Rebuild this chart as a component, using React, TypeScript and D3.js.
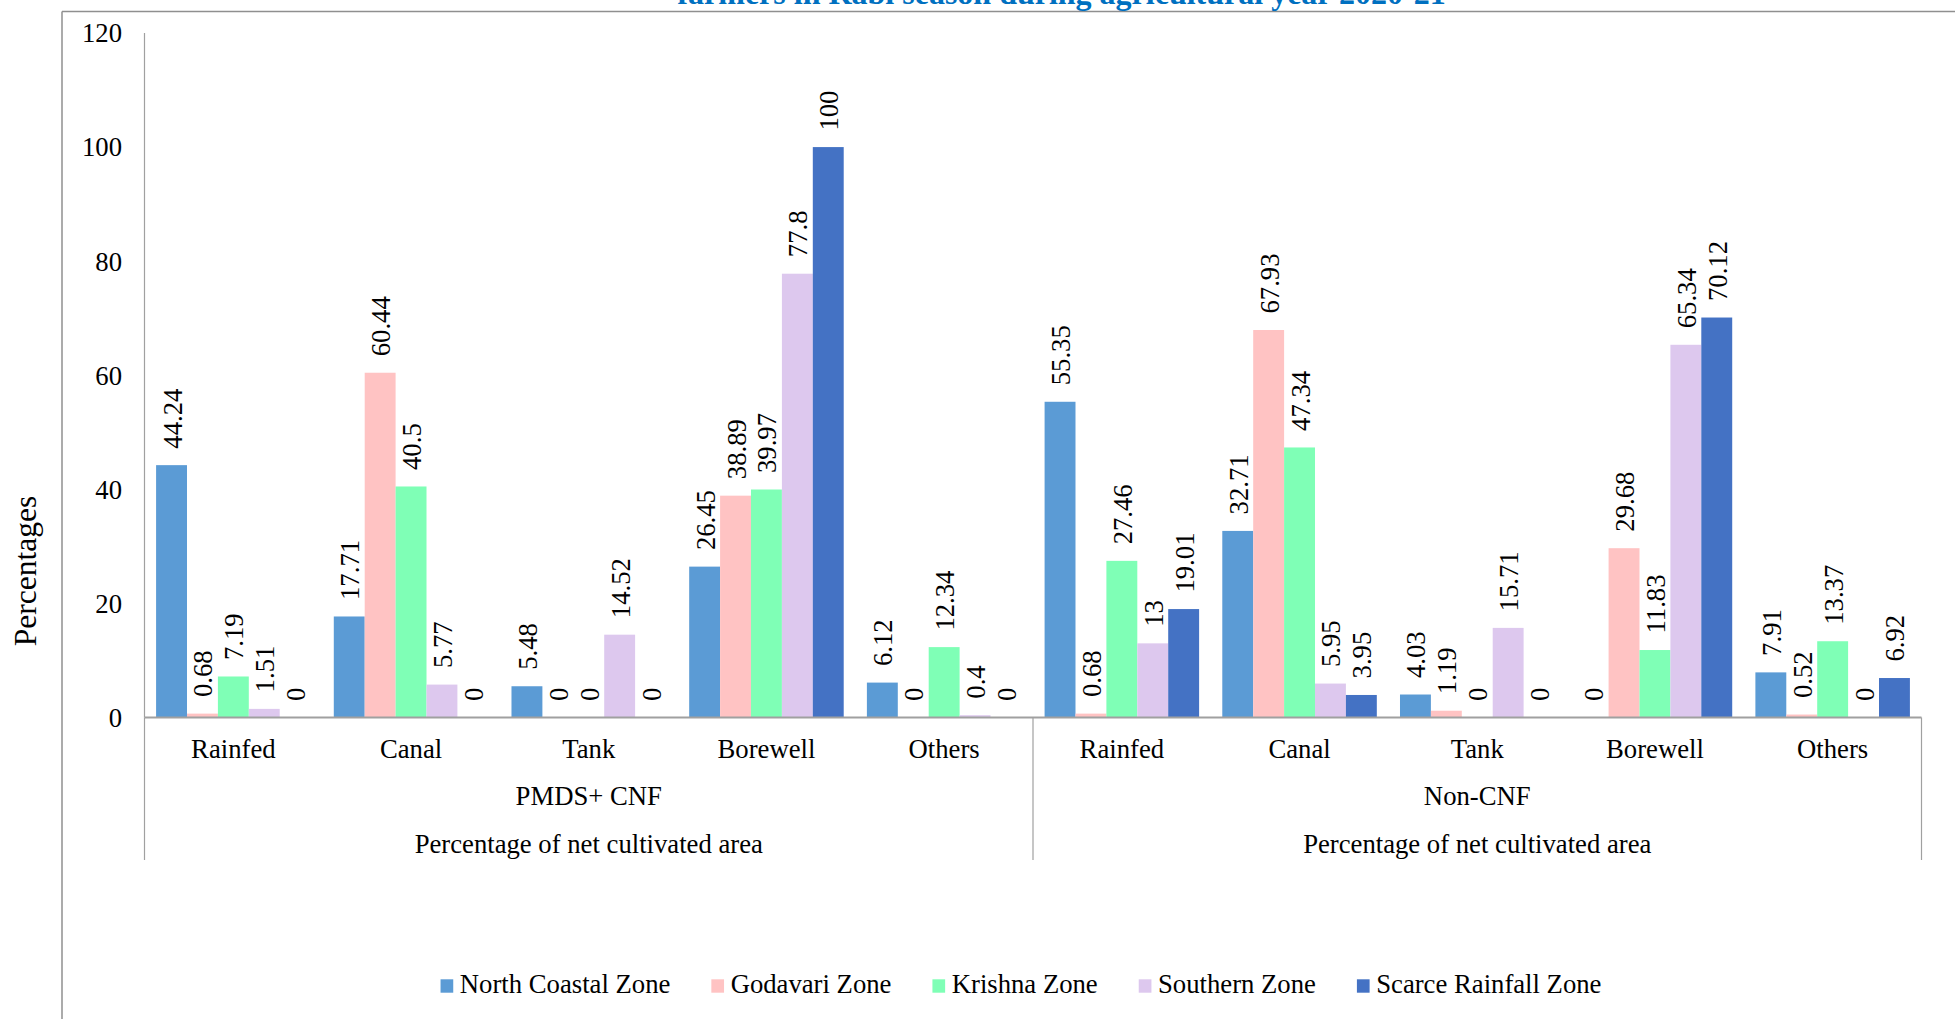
import React, { useEffect } from "react";
import * as d3 from "d3";

const W = 1955;
const H = 1019;

const titleText = "farmers in Rabi season during agricultural year 2020-21";
const yAxisTitle = "Percentages";
const categories = ["Rainfed", "Canal", "Tank", "Borewell", "Others"];
const groups = ["PMDS+ CNF", "Non-CNF"];
const topLevelLabel = "Percentage of net cultivated area";
const seriesNames = [
  "North Coastal Zone",
  "Godavari Zone",
  "Krishna Zone",
  "Southern Zone",
  "Scarce Rainfall Zone",
];
const seriesColors = ["#5B9BD5", "#FFC3C3", "#7FFFB6", "#DDC8EE", "#4472C4"];

// values: first 5 = PMDS+ CNF categories, last 5 = Non-CNF categories
const northCoastal = [44.24, 17.71, 5.48, 26.45, 6.12, 55.35, 32.71, 4.03, 0, 7.91];
const godavari = [0.68, 60.44, 0, 38.89, 0, 0.68, 67.93, 1.19, 29.68, 0.52];
const krishna = [7.19, 40.5, 0, 39.97, 12.34, 27.46, 47.34, 0, 11.83, 13.37];
const southern = [1.51, 5.77, 14.52, 77.8, 0.4, 13, 5.95, 15.71, 65.34, 0];
const scarce = [0, 0, 0, 100, 0, 19.01, 3.95, 0, 70.12, 6.92];
const seriesValues = [northCoastal, godavari, krishna, southern, scarce];
const yTicks = [0, 20, 40, 60, 80, 100, 120];

const FONT = "'Liberation Serif', 'Times New Roman', serif";
const FS = 26.7;

function measure(text: string, font: string): number {
  const c = document.createElement("canvas");
  const ctx = c.getContext("2d");
  if (!ctx) return text.length * 12;
  ctx.font = font;
  return ctx.measureText(text).width;
}

export default function App() {
  useEffect(() => {
    document.body.style.margin = "0";
    document.body.style.overflow = "hidden";
  }, []);

  const plotLeft = 144.5;
  const plotRight = 1921.5;
  const baseY = 717.5;
  const topY = 33;

  const slots = groups.flatMap((g, gi) => categories.map((c, ci) => `${gi}-${ci}`));
  const x = d3.scaleBand<string>().domain(slots).range([plotLeft, plotRight]).padding(0);
  const xInner = d3
    .scaleBand<string>()
    .domain(seriesNames)
    .range([0, x.bandwidth()])
    .paddingInner(0)
    .paddingOuter(0.375);
  const y = d3.scaleLinear().domain([0, 120]).range([baseY, topY]);

  const groupWidth = (plotRight - plotLeft) / groups.length;
  const dividerXs = d3.range(groups.length + 1).map((i) => plotLeft + i * groupWidth);

  // legend layout
  const legendFont = `${FS}px 'Liberation Serif'`;
  const markerW = 12.7;
  const markerGap = 19.3;
  const itemGap = 41;
  const widths = seriesNames.map((s) => measure(s, legendFont));
  const total =
    widths.reduce((a, b) => a + b, 0) +
    seriesNames.length * markerGap +
    (seriesNames.length - 1) * itemGap;
  const legendCenter = 1021;
  let lx = legendCenter - total / 2;
  const legendItems = seriesNames.map((s, i) => {
    const item = { name: s, x: lx, color: seriesColors[i] };
    lx += markerGap + widths[i] + itemGap;
    return item;
  });

  const axisColor = "#a0a0a0";

  return (
    <svg
      width={W}
      height={H}
      style={{ position: "absolute", left: 0, top: 0, background: "#fff" }}
      fontFamily={FONT}
    >
      <rect x={0} y={0} width={W} height={H} fill="#fff" />
      {/* outer chart border */}
      <line x1={62} y1={11.5} x2={W} y2={11.5} stroke="#8f8f8f" strokeWidth={1.5} />
      <line x1={62} y1={11.5} x2={62} y2={H} stroke="#8f8f8f" strokeWidth={1.5} />

      {/* title (its top is outside the picture, as in the source) */}
      <text
        x={1061.5}
        y={4}
        textAnchor="middle"
        fontSize={32}
        fontWeight="bold"
        fontFamily={FONT}
        fill="#0070C0"
      >
        {titleText}
      </text>

      {/* y axis title */}
      <text
        transform={`translate(${36},${571}) rotate(-90)`}
        textAnchor="middle"
        fontSize={31.5}
        fontFamily={FONT}
        fill="#000"
      >
        {yAxisTitle}
      </text>

      {/* y ticks */}
      {yTicks.map((t) => (
        <text
          key={t}
          x={122}
          y={y(t)}
          dy="0.35em"
          textAnchor="end"
          fontSize={FS}
          fontFamily={FONT}
          fill="#000"
        >
          {t}
        </text>
      ))}

      {/* bars */}
      {seriesValues.map((vals, si) =>
        vals.map((v, i) => {
          const bx = (x(slots[i]) as number) + (xInner(seriesNames[si]) as number);
          const bw = xInner.bandwidth();
          return (
            <rect
              key={`b-${si}-${i}`}
              x={bx}
              y={y(v)}
              width={bw}
              height={baseY - y(v)}
              fill={seriesColors[si]}
            />
          );
        })
      )}

      {/* data labels */}
      {seriesValues.map((vals, si) =>
        vals.map((v, i) => {
          const cx =
            (x(slots[i]) as number) + (xInner(seriesNames[si]) as number) + xInner.bandwidth() / 2;
          const ty = y(v) - 16.5;
          return (
            <text
              key={`l-${si}-${i}`}
              transform={`translate(${cx + 10},${ty}) rotate(-90)`}
              textAnchor="start"
              fontSize={FS}
              fontFamily={FONT}
              fill="#000"
            >
              {String(v)}
            </text>
          );
        })
      )}

      {/* axes lines */}
      <line x1={plotLeft} y1={topY} x2={plotLeft} y2={baseY} stroke={axisColor} strokeWidth={1.2} />
      <line x1={plotLeft} y1={baseY} x2={plotRight} y2={baseY} stroke={axisColor} strokeWidth={2} />
      {dividerXs.map((dx, i) => (
        <line key={`d-${i}`} x1={dx} y1={baseY} x2={dx} y2={860} stroke={axisColor} strokeWidth={1.2} />
      ))}

      {/* category labels */}
      {slots.map((s, i) => (
        <text
          key={`c-${s}`}
          x={(x(s) as number) + x.bandwidth() / 2}
          y={758.3}
          textAnchor="middle"
          fontSize={FS}
          fontFamily={FONT}
          fill="#000"
        >
          {categories[i % categories.length]}
        </text>
      ))}
      {groups.map((g, gi) => (
        <text
          key={`g-${gi}`}
          x={dividerXs[gi] + groupWidth / 2}
          y={805}
          textAnchor="middle"
          fontSize={FS}
          fontFamily={FONT}
          fill="#000"
        >
          {g}
        </text>
      ))}
      {groups.map((g, gi) => (
        <text
          key={`t-${gi}`}
          x={dividerXs[gi] + groupWidth / 2}
          y={852.7}
          textAnchor="middle"
          fontSize={FS}
          fontFamily={FONT}
          fill="#000"
        >
          {topLevelLabel}
        </text>
      ))}

      {/* legend */}
      {legendItems.map((it) => (
        <g key={it.name}>
          <rect x={it.x} y={979.3} width={markerW} height={13.4} fill={it.color} />
          <text x={it.x + markerGap} y={993.3} fontSize={FS} fontFamily={FONT} fill="#000">
            {it.name}
          </text>
        </g>
      ))}
    </svg>
  );
}
